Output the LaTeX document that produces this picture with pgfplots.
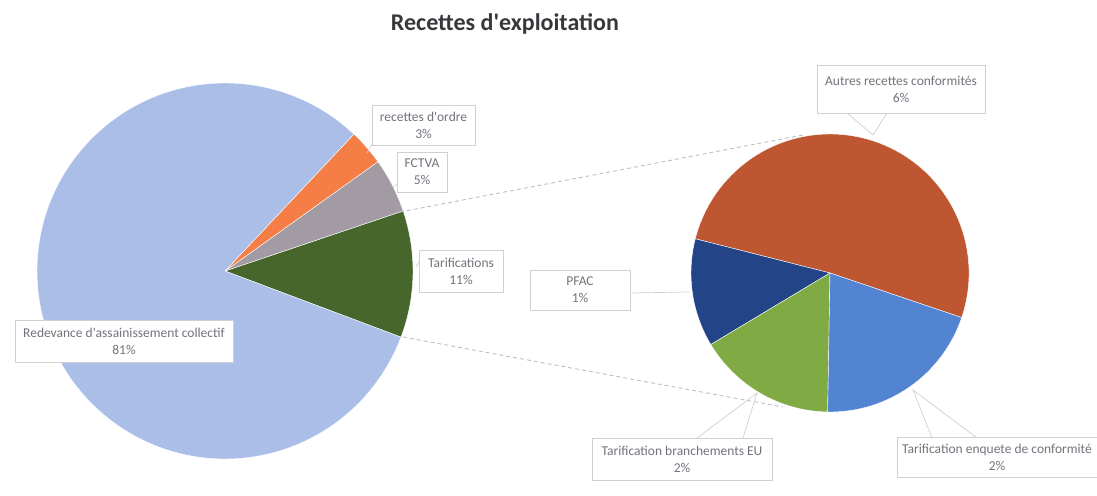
\documentclass[border=0pt]{standalone}
\usepackage{pgfplots}
\pgfplotsset{compat=1.18}
\usepackage{fontspec}
\setmainfont{Carlito}
\definecolor{cRed}{RGB}{170,190,232}
\definecolor{cOrd}{RGB}{245,125,70}
\definecolor{cFct}{RGB}{163,155,163}
\definecolor{cTar}{RGB}{70,102,44}
\definecolor{cAut}{RGB}{190,86,50}
\definecolor{cEnq}{RGB}{82,132,210}
\definecolor{cBra}{RGB}{128,170,68}
\definecolor{cPfa}{RGB}{35,68,135}
\definecolor{lblText}{RGB}{115,115,125}
\definecolor{lblBorder}{RGB}{208,208,208}
\newcommand{\q}{\textquotesingle}
\begin{document}
\begin{tikzpicture}
\begin{axis}[width=1097pt,height=495pt,scale only axis,
  xmin=0,xmax=1097,ymin=0,ymax=495,hide axis,clip=false]
% Main pie: values (%), start angle -20.6 deg, counter-clockwise
\pgfmathsetmacro{\ang}{-20.6}
\foreach \v/\c in {10.9/cTar,4.7/cFct,3.1/cOrd,81.3/cRed}{
  \pgfmathsetmacro{\a}{\ang}
  \pgfmathsetmacro{\b}{\ang+3.6*\v}
  \edef\tmp{\noexpand\fill[\c,draw=white,line width=0.4pt] (axis cs:225,224) -- ++(\a:188pt) arc[start angle=\a,end angle=\b,radius=188pt] -- cycle;}
  \tmp
  \global\let\ang\b
}
% Secondary pie: breakdown of Tarifications, start angle -18.7 deg
\pgfmathsetmacro{\ang}{-18.7}
\foreach \v/\c in {5.59/cAut,1.37/cPfa,1.76/cBra,2.19/cEnq}{
  \pgfmathsetmacro{\a}{\ang}
  \pgfmathsetmacro{\b}{\ang+360*\v/10.91}
  \edef\tmp{\noexpand\fill[\c,draw=white,line width=0.4pt] (axis cs:830,222) -- ++(\a:139pt) arc[start angle=\a,end angle=\b,radius=139pt] -- cycle;}
  \tmp
  \global\let\ang\b
}
% connector lines
\draw[gray!50,dash pattern=on 4pt off 3pt,line width=0.9pt] (axis cs:400,283) -- (axis cs:803,360);
\draw[gray!50,dash pattern=on 4pt off 3pt,line width=0.9pt] (axis cs:403,158) -- (axis cs:783,88);
% leader lines
\begin{scope}[lblBorder,line width=0.7pt]
\draw (axis cs:847,382) -- (axis cs:873,360) -- (axis cs:887,382);
\draw (axis cs:697,57) -- (axis cs:757,102) -- (axis cs:743,57);
\draw (axis cs:932,57) -- (axis cs:913,105) -- (axis cs:977,57);
\draw (axis cs:630,202) -- (axis cs:690,203);
\draw (axis cs:374,354) -- (axis cs:367,342);
\draw (axis cs:398,312) -- (axis cs:393,308);
\draw (axis cs:421,237) -- (axis cs:416,228);
\end{scope}
% labels
\tikzset{lbl/.style={draw=lblBorder,fill=white,text=lblText,align=center,inner sep=0pt,
  font=\fontsize{13.5}{17}\selectfont,line width=0.7pt}}
\node[lbl,minimum width=103pt,minimum height=40pt] at (axis cs:423.5,370) {recettes d\q ordre\\3\%};
\node[lbl,minimum width=50pt,minimum height=40pt] at (axis cs:422,323) {FCTVA\\5\%};
\node[lbl,minimum width=84pt,minimum height=42pt] at (axis cs:461,224) {Tarifications\\11\%};
\node[lbl,minimum width=218pt,minimum height=42pt] at (axis cs:124,154) {Redevance d\q assainissement collectif\\81\%};
\node[lbl,minimum width=168pt,minimum height=48pt] at (axis cs:901,406) {Autres recettes conformités\\6\%};
\node[lbl,minimum width=100pt,minimum height=40pt] at (axis cs:580,205) {PFAC\\1\%};
\node[lbl,minimum width=180pt,minimum height=42pt] at (axis cs:682,36) {Tarification branchements EU\\2\%};
\node[lbl,minimum width=200pt,minimum height=40pt] at (axis cs:997,37.5) {Tarification enquete de conformité\\2\%};
% title
\node[font=\fontsize{24}{28}\selectfont\bfseries,text={rgb,255:red,55;green,55;blue,60}] at (axis cs:505,471) {Recettes d\q exploitation};
\end{axis}
\pgfresetboundingbox
\useasboundingbox (0,0) rectangle (1097pt,495pt);
\end{tikzpicture}
\end{document}
